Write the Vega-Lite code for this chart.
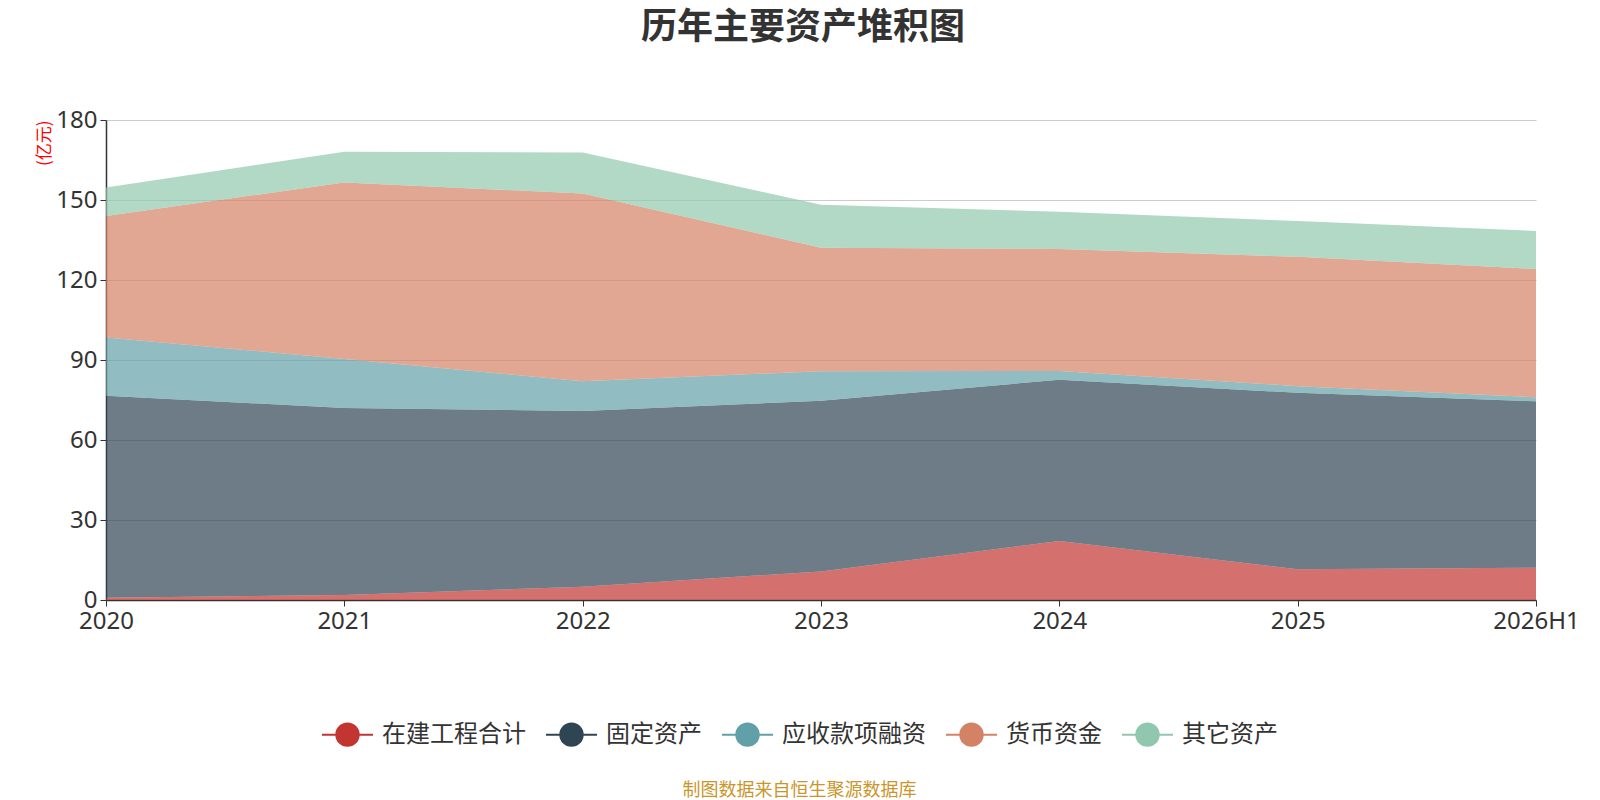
{
  "$schema": "https://vega.github.io/schema/vega-lite/v6.json",
  "width": 1430,
  "height": 480,
  "autosize": {"type": "none"},
  "padding": {"left": 106, "top": 120, "right": 64, "bottom": 200},
  "background": "white",
  "title": {
    "text": "历年主要资产堆积图",
    "fontSize": 36,
    "fontWeight": "bold",
    "font": "Noto Sans CJK SC",
    "color": "#333333",
    "anchor": "middle",
    "dx": -18,
    "offset": 61
  },
  "data": {
    "values": [
      {"year": "2020", "item": "在建工程合计", "ord": 1, "value": 0.8},
      {"year": "2021", "item": "在建工程合计", "ord": 1, "value": 1.9},
      {"year": "2022", "item": "在建工程合计", "ord": 1, "value": 5.0},
      {"year": "2023", "item": "在建工程合计", "ord": 1, "value": 10.7},
      {"year": "2024", "item": "在建工程合计", "ord": 1, "value": 22.1},
      {"year": "2025", "item": "在建工程合计", "ord": 1, "value": 11.5},
      {"year": "2026H1", "item": "在建工程合计", "ord": 1, "value": 12.1},
      {"year": "2020", "item": "固定资产", "ord": 2, "value": 75.8},
      {"year": "2021", "item": "固定资产", "ord": 2, "value": 70.1},
      {"year": "2022", "item": "固定资产", "ord": 2, "value": 65.9},
      {"year": "2023", "item": "固定资产", "ord": 2, "value": 64.0},
      {"year": "2024", "item": "固定资产", "ord": 2, "value": 60.5},
      {"year": "2025", "item": "固定资产", "ord": 2, "value": 66.2},
      {"year": "2026H1", "item": "固定资产", "ord": 2, "value": 62.4},
      {"year": "2020", "item": "应收款项融资", "ord": 3, "value": 21.8},
      {"year": "2021", "item": "应收款项融资", "ord": 3, "value": 18.4},
      {"year": "2022", "item": "应收款项融资", "ord": 3, "value": 11.1},
      {"year": "2023", "item": "应收款项融资", "ord": 3, "value": 11.1},
      {"year": "2024", "item": "应收款项融资", "ord": 3, "value": 3.3},
      {"year": "2025", "item": "应收款项融资", "ord": 3, "value": 2.5},
      {"year": "2026H1", "item": "应收款项融资", "ord": 3, "value": 1.5},
      {"year": "2020", "item": "货币资金", "ord": 4, "value": 45.6},
      {"year": "2021", "item": "货币资金", "ord": 4, "value": 66.2},
      {"year": "2022", "item": "货币资金", "ord": 4, "value": 70.4},
      {"year": "2023", "item": "货币资金", "ord": 4, "value": 46.3},
      {"year": "2024", "item": "货币资金", "ord": 4, "value": 45.7},
      {"year": "2025", "item": "货币资金", "ord": 4, "value": 48.5},
      {"year": "2026H1", "item": "货币资金", "ord": 4, "value": 48.1},
      {"year": "2020", "item": "其它资产", "ord": 5, "value": 10.7},
      {"year": "2021", "item": "其它资产", "ord": 5, "value": 11.5},
      {"year": "2022", "item": "其它资产", "ord": 5, "value": 15.4},
      {"year": "2023", "item": "其它资产", "ord": 5, "value": 16.1},
      {"year": "2024", "item": "其它资产", "ord": 5, "value": 14.0},
      {"year": "2025", "item": "其它资产", "ord": 5, "value": 13.4},
      {"year": "2026H1", "item": "其它资产", "ord": 5, "value": 14.3}
    ]
  },
  "mark": {"type": "area", "opacity": 0.7},
  "encoding": {
    "x": {
      "field": "year",
      "type": "ordinal",
      "scale": {"type": "point", "padding": 0},
      "axis": {
        "title": "制图数据来自恒生聚源数据库",
        "titleColor": "#c9962c",
        "titleFont": "Noto Sans CJK SC",
        "titleFontSize": 18,
        "titleFontWeight": "normal",
        "titlePadding": 148,
        "titleX": 693,
        "labelAngle": 0,
        "labelFontSize": 24,
        "labelFont": "Noto Sans",
        "labelColor": "#333333",
        "labelPadding": 3,
        "domainColor": "#333333",
        "domainWidth": 1.5,
        "tickColor": "#333333",
        "tickSize": 6,
        "grid": false
      }
    },
    "y": {
      "field": "value",
      "type": "quantitative",
      "stack": "zero",
      "scale": {"domain": [0, 180], "nice": false},
      "axis": {
        "values": [0, 30, 60, 90, 120, 150, 180],
        "title": "(亿元)",
        "titleColor": "#ff0000",
        "titleFont": "Noto Sans CJK SC",
        "titleFontSize": 17,
        "titleFontWeight": "normal",
        "titleAngle": -90,
        "titleAlign": "right",
        "titleBaseline": "middle",
        "titleX": -62,
        "titleY": 0,
        "labelFontSize": 24,
        "labelFont": "Noto Sans",
        "labelColor": "#333333",
        "labelPadding": 3,
        "domainColor": "#333333",
        "domainWidth": 1.5,
        "tickColor": "#333333",
        "tickSize": 6,
        "gridColor": "#cccccc",
        "gridWidth": 1.2
      }
    },
    "color": {
      "field": "item",
      "type": "nominal",
      "scale": {
        "domain": ["在建工程合计", "固定资产", "应收款项融资", "货币资金", "其它资产"],
        "range": ["#c23531", "#2f4554", "#61a0a8", "#d48265", "#91c7ae"]
      },
      "legend": {
        "title": null,
        "orient": "none",
        "direction": "horizontal",
        "legendX": 215,
        "legendY": 588,
        "symbolType": "M-1,0L-0.44,0M0.44,0L1,0M-0.44,0A0.44,0.44,0,1,1,0.44,0A0.44,0.44,0,1,1,-0.44,0Z",
        "symbolSize": 2600,
        "symbolStrokeWidth": 2,
        "symbolOpacity": 1,
        "labelFont": "Noto Sans CJK SC",
        "labelFontSize": 24,
        "labelColor": "#333333",
        "labelOffset": 8,
        "columnPadding": 16,
        "encode": {
          "symbols": {
            "update": {
              "stroke": {"scale": "color", "field": "value"},
              "fill": {"scale": "color", "field": "value"},
              "fillOpacity": {"value": 1},
              "opacity": {"value": 1}
            }
          }
        }
      }
    },
    "order": {"field": "ord", "type": "quantitative"}
  },
  "config": {
    "view": {"stroke": null}
  }
}
